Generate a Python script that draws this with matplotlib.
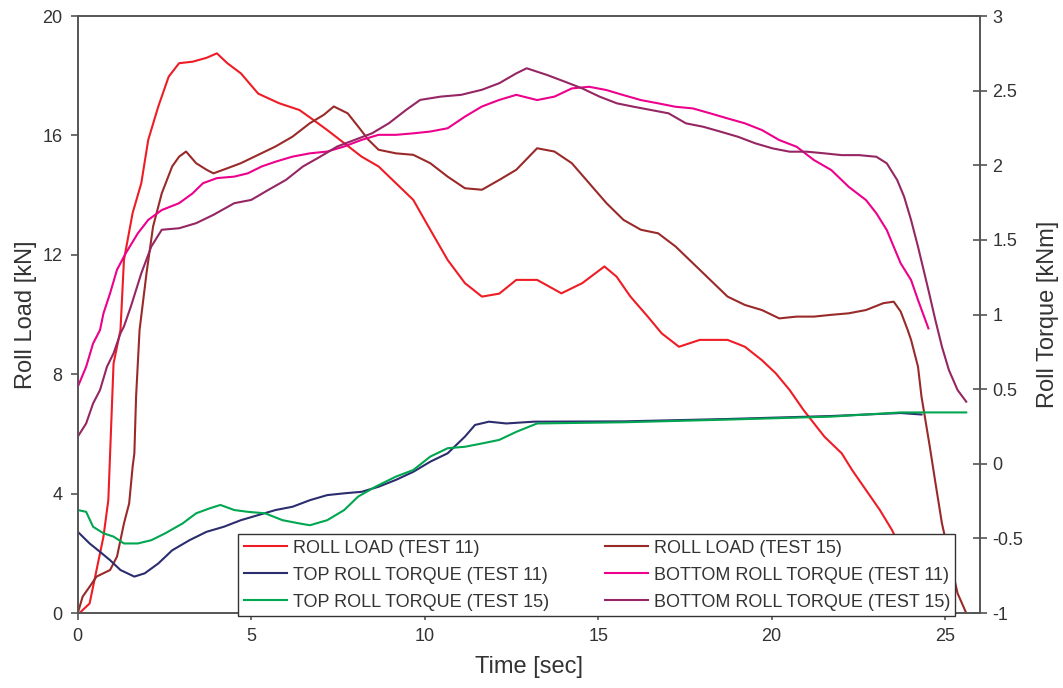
import matplotlib
matplotlib.use("Agg")
import matplotlib.pyplot as plt
from matplotlib.ticker import FuncFormatter, MultipleLocator

plt.rcParams['font.family'] = ['Liberation Sans', 'DejaVu Sans']

# ---- data ----
# Roll load, test 11 [kN]
t_rl11 = [0.0, 0.05, 0.34, 0.54, 0.74, 0.88, 1.03, 1.23, 1.33, 1.58, 1.83, 2.03, 2.32, 2.62,
          2.92, 3.31, 3.71, 4.01, 4.31, 4.70, 5.2, 5.8, 6.39, 6.79, 7.19, 7.68, 8.18, 8.67,
          9.17, 9.67, 10.16, 10.66, 11.16, 11.65, 12.15, 12.64, 13.24, 13.94, 14.54, 15.18,
          15.53, 15.93, 16.43, 16.83, 17.33, 17.93, 18.73, 19.23, 19.72, 20.12, 20.52, 20.92,
          21.52, 22.02, 22.32, 22.72, 23.12, 23.47, 24.0, 24.5]
rl11 = [0.0, 0.0, 0.32, 1.44, 2.56, 3.79, 8.36, 9.48, 11.83, 13.4, 14.4, 15.85, 16.97, 17.97,
        18.42, 18.47, 18.6, 18.75, 18.42, 18.08, 17.4, 17.08, 16.85, 16.52, 16.18, 15.74, 15.29,
        14.96, 14.4, 13.84, 12.84, 11.83, 11.05, 10.6, 10.7, 11.16, 11.16, 10.71, 11.05, 11.61,
        11.27, 10.6, 9.93, 9.37, 8.92, 9.15, 9.15, 8.92, 8.47, 8.03, 7.47, 6.8,
        5.91, 5.35, 4.79, 4.12, 3.45, 2.78, 1.5, 0.0]

# Roll load, test 15 [kN]
t_rl15 = [0.0, 0.14, 0.34, 0.54, 0.93, 1.13, 1.33, 1.48, 1.58, 1.63, 1.68, 1.78, 1.98, 2.17,
          2.42, 2.72, 2.92, 3.12, 3.41, 3.71, 3.91, 4.31, 4.7, 5.2, 5.7, 6.19, 6.69, 7.09, 7.38,
          7.78, 8.08, 8.38, 8.67, 9.17, 9.67, 10.16, 10.66, 11.16, 11.65, 12.15, 12.64, 13.24,
          13.74, 14.24, 14.74, 15.24, 15.73, 16.23, 16.73, 17.23, 17.73, 18.23, 18.73, 19.23,
          19.72, 20.22, 20.72, 21.22, 21.72, 22.22, 22.72, 23.22, 23.52, 23.72, 23.92, 24.02,
          24.22, 24.32, 24.56, 24.71, 24.91, 25.36, 25.61]
rl15 = [0.0, 0.55, 0.88, 1.22, 1.44, 1.89, 3.0, 3.67, 4.9, 5.35, 7.25, 9.48, 11.38, 12.95,
        14.06, 14.96, 15.29, 15.46, 15.07, 14.85, 14.73, 14.9, 15.07, 15.35, 15.63, 15.96, 16.41,
        16.69, 16.97, 16.74, 16.3, 15.85, 15.52, 15.4, 15.35, 15.07, 14.62, 14.23, 14.18, 14.51,
        14.85, 15.57, 15.46, 15.07, 14.4, 13.73, 13.17, 12.84, 12.72, 12.28, 11.72, 11.16, 10.6,
        10.32, 10.15, 9.87, 9.93, 9.93, 9.99, 10.04, 10.15, 10.38, 10.43, 10.1, 9.49, 9.15,
        8.25, 7.25, 5.57, 4.45, 3.0, 0.66, 0.0]

# Top roll torque, test 11 [kNm]
t_tt11 = [0.0, 0.34, 0.64, 0.93, 1.23, 1.63, 1.93, 2.32, 2.72, 3.22, 3.71, 4.21, 4.70, 5.2,
          5.7, 6.19, 6.69, 7.19, 7.68, 8.18, 8.67, 9.17, 9.67, 10.16, 10.66, 11.16, 11.45,
          11.85, 12.35, 13.14, 15.73, 18.73, 21.72, 23.72, 24.32]
tt11 = [-0.456, -0.534, -0.59, -0.646, -0.712, -0.756, -0.734, -0.668, -0.58, -0.512, -0.456,
        -0.422, -0.378, -0.344, -0.31, -0.288, -0.244, -0.21, -0.198, -0.188, -0.154, -0.108,
        -0.054, 0.014, 0.07, 0.182, 0.26, 0.282, 0.27, 0.282, 0.284, 0.30, 0.32, 0.34, 0.33]

# Top roll torque, test 15 [kNm]
t_tt15 = [0.0, 0.24, 0.44, 0.74, 1.03, 1.33, 1.73, 2.12, 2.52, 3.02, 3.41, 3.81, 4.11, 4.51,
          4.9, 5.4, 5.9, 6.39, 6.69, 7.19, 7.68, 8.08, 8.58, 9.17, 9.67, 10.16, 10.66, 11.16,
          11.65, 12.15, 12.64, 13.24, 15.73, 18.73, 21.72, 23.72, 25.61]
tt15 = [-0.31, -0.322, -0.422, -0.466, -0.488, -0.534, -0.534, -0.512, -0.466, -0.4, -0.332,
        -0.298, -0.276, -0.31, -0.322, -0.332, -0.378, -0.4, -0.412, -0.378, -0.31, -0.22,
        -0.154, -0.086, -0.042, 0.048, 0.104, 0.114, 0.136, 0.16, 0.214, 0.27, 0.278, 0.296,
        0.316, 0.344, 0.344]

# Bottom roll torque, test 11 [kNm]
t_bt11 = [0.0, 0.24, 0.44, 0.64, 0.74, 0.93, 1.13, 1.38, 1.73, 2.03, 2.42, 2.92, 3.31, 3.61,
          4.01, 4.51, 4.9, 5.3, 5.7, 6.19, 6.69, 7.19, 7.68, 8.18, 8.67, 9.17, 9.67, 10.16,
          10.66, 11.16, 11.65, 12.15, 12.64, 13.24, 13.74, 14.24, 14.74, 15.24, 15.73, 16.23,
          16.73, 17.23, 17.73, 18.23, 18.73, 19.23, 19.72, 20.22, 20.72, 21.22, 21.72, 22.22,
          22.72, 23.02, 23.32, 23.52, 23.72, 24.02, 24.22, 24.52]
bt11 = [0.516, 0.65, 0.806, 0.896, 1.008, 1.142, 1.3, 1.41, 1.544, 1.634, 1.70, 1.746, 1.812,
        1.88, 1.914, 1.924, 1.946, 1.992, 2.024, 2.058, 2.08, 2.092, 2.126, 2.17, 2.204, 2.204,
        2.214, 2.226, 2.248, 2.326, 2.394, 2.438, 2.472, 2.437, 2.46, 2.515, 2.526, 2.504, 2.47,
        2.437, 2.415, 2.392, 2.381, 2.348, 2.314, 2.281, 2.236, 2.169, 2.124, 2.035, 1.968,
        1.856, 1.767, 1.678, 1.566, 1.454, 1.343, 1.231, 1.097, 0.907]

# Bottom roll torque, test 15 [kNm]
t_bt15 = [0.0, 0.24, 0.44, 0.64, 0.84, 1.03, 1.23, 1.33, 1.53, 1.83, 2.12, 2.42, 2.92, 3.41,
          3.91, 4.51, 5.0, 5.5, 6.0, 6.49, 6.99, 7.48, 7.98, 8.48, 8.97, 9.47, 9.87, 10.46,
          11.05, 11.65, 12.15, 12.64, 12.94, 13.54, 14.04, 14.54, 15.04, 15.54, 16.03, 16.53,
          17.03, 17.53, 18.03, 18.53, 19.03, 19.53, 20.03, 20.52, 21.02, 21.52, 22.02, 22.52,
          23.02, 23.32, 23.62, 23.82, 24.02, 24.22, 24.52, 24.72, 24.91, 25.11, 25.36, 25.61]
bt15 = [0.182, 0.27, 0.404, 0.494, 0.65, 0.74, 0.874, 0.92, 1.054, 1.276, 1.456, 1.568, 1.578,
        1.612, 1.668, 1.746, 1.768, 1.836, 1.902, 1.992, 2.058, 2.126, 2.17, 2.214, 2.282, 2.372,
        2.438, 2.46, 2.472, 2.506, 2.55, 2.616, 2.65, 2.604, 2.56, 2.515, 2.46, 2.415, 2.392,
        2.37, 2.348, 2.281, 2.258, 2.225, 2.191, 2.147, 2.113, 2.091, 2.091, 2.08, 2.068, 2.068,
        2.057, 2.013, 1.901, 1.789, 1.633, 1.454, 1.164, 0.963, 0.784, 0.628, 0.494, 0.416]

x_ticks = [0, 5, 10, 15, 20, 25]
load_ticks = [0, 4, 8, 12, 16, 20]
torque_ticks = [-1, -0.5, 0, 0.5, 1, 1.5, 2, 2.5, 3]

# ---- figure ----
txt = '#333333'
spine = '#555555'
lw = 1.5

fig = plt.figure(figsize=(10.63, 6.88), dpi=100)
ax = fig.add_axes([0.0732, 0.109, 0.8485, 0.8677])
ax2 = ax.twinx()

l1, = ax.plot(t_rl11, rl11, color='#ee1c25', lw=lw, label='ROLL LOAD (TEST 11)')
l4, = ax.plot(t_rl15, rl15, color='#9a2a2a', lw=lw, label='ROLL LOAD (TEST 15)')
l2, = ax2.plot(t_tt11, tt11, color='#2b2d6e', lw=lw, label='TOP ROLL TORQUE (TEST 11)')
l3, = ax2.plot(t_tt15, tt15, color='#00a650', lw=lw, label='TOP ROLL TORQUE (TEST 15)')
l5, = ax2.plot(t_bt11, bt11, color='#ec008c', lw=lw, label='BOTTOM ROLL TORQUE (TEST 11)')
l6, = ax2.plot(t_bt15, bt15, color='#952663', lw=lw, label='BOTTOM ROLL TORQUE (TEST 15)')

ax.set_xlim(0, 26)
ax.set_ylim(0, 20)
ax2.set_ylim(-1, 3)
ax.set_xticks(x_ticks)
ax.set_yticks(load_ticks)
ax2.set_yticks(torque_ticks)
ax2.yaxis.set_major_formatter(FuncFormatter(lambda v, p: '%g' % v))

for a in (ax, ax2):
    for s in a.spines.values():
        s.set_color(spine)
        s.set_linewidth(1.2)
ax.tick_params(axis='both', direction='out', length=5, width=1.2, color=spine,
               labelsize=13, labelcolor=txt, pad=6)
ax2.tick_params(axis='y', direction='inout', length=10, width=1.2, color=spine,
                labelsize=13, labelcolor=txt, pad=4)

ax.set_xlabel('Time [sec]', fontsize=17, color=txt, labelpad=8)
ax.set_ylabel('Roll Load [kN]', fontsize=17, color=txt, labelpad=4)
ax2.set_ylabel('Roll Torque [kNm]', fontsize=17, color=txt, labelpad=10)

leg = ax2.legend(handles=[l1, l2, l3, l4, l5, l6], ncol=2, loc='lower left',
                 bbox_to_anchor=(0.178, -0.005, 0.795, 0.135), mode='expand',
                 fontsize=13, frameon=True, fancybox=False, handlelength=2.4,
                 handletextpad=0.3, borderpad=0.3, labelspacing=0.55, columnspacing=1.0,
                 borderaxespad=0)
leg.get_frame().set_edgecolor('#333333')
leg.get_frame().set_linewidth(1.0)
leg.get_frame().set_alpha(1)
leg.set_zorder(10)
for t in leg.get_texts():
    t.set_color(txt)

fig.savefig('out.png', dpi=100)
